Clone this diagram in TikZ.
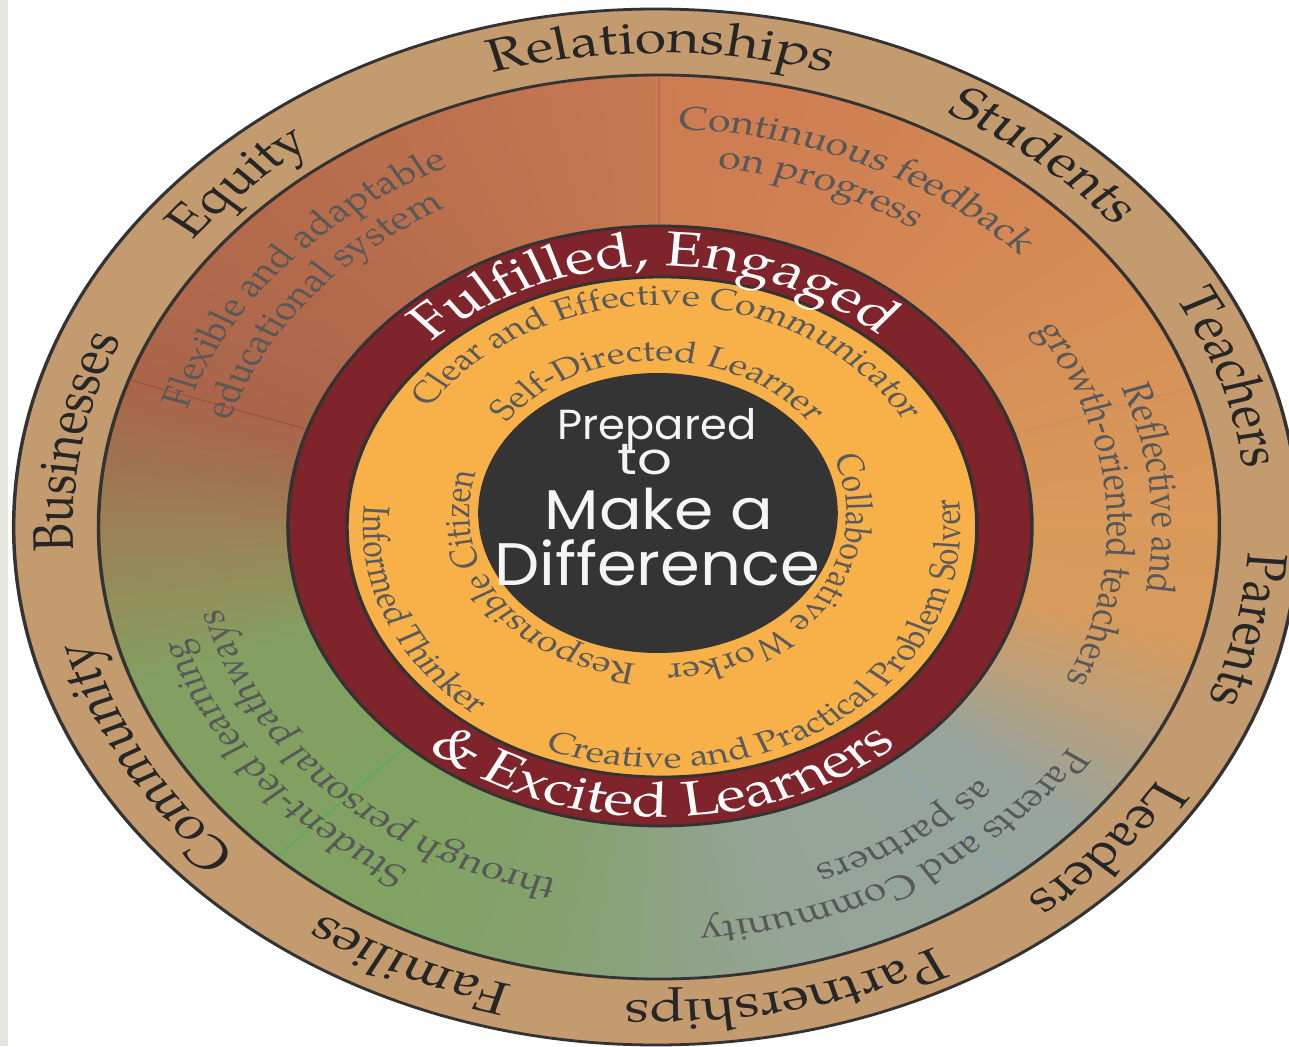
\documentclass[tikz,border=0pt]{standalone}
\usepackage{graphicx}
\usepackage{fontspec}
\setmainfont{texgyrepagella-regular.otf}
\newfontfamily\chalkfont{Poppins}
\usetikzlibrary{decorations.text}
\definecolor{stripcol}{RGB}{229,231,222}
\definecolor{tanband}{RGB}{196,155,110}
\definecolor{edgecol}{RGB}{51,51,51}
\definecolor{redring}{RGB}{126,36,42}
\definecolor{orangering}{RGB}{248,176,73}
\definecolor{darkcore}{RGB}{52,52,52}
\definecolor{labcol}{RGB}{38,38,38}
\definecolor{bandtxt}{RGB}{88,88,88}
\definecolor{oringtxt}{RGB}{90,90,90}
\definecolor{chalkcol}{RGB}{245,245,245}
\definecolor{sA}{RGB}{198,120,81}
\definecolor{sB}{RGB}{186,111,77}
\definecolor{sC}{RGB}{170,101,74}
\definecolor{sD}{RGB}{160,115,80}
\definecolor{sE}{RGB}{155,130,86}
\definecolor{sF}{RGB}{145,145,90}
\definecolor{sG}{RGB}{131,159,97}
\definecolor{sH}{RGB}{128,163,98}
\definecolor{sI}{RGB}{134,162,112}
\definecolor{sJ}{RGB}{150,164,152}
\definecolor{sK}{RGB}{152,164,157}
\definecolor{sL}{RGB}{186,160,124}
\definecolor{sM}{RGB}{214,155,93}
\definecolor{sN}{RGB}{217,154,90}
\definecolor{sO}{RGB}{216,148,88}
\definecolor{sP}{RGB}{213,137,84}
\definecolor{sQ}{RGB}{208,128,82}
\definecolor{sR}{RGB}{205,124,82}
\definecolor{divA}{RGB}{150,78,60}
\definecolor{divB}{RGB}{185,100,70}
\definecolor{divC}{RGB}{200,140,90}
\definecolor{divD}{RGB}{120,175,205}
\definecolor{divE}{RGB}{70,180,80}
\tikzset{
  ringedge/.style={draw=edgecol,line width=2.8pt},
  chalk/.style={text=chalkcol,font=\chalkfont,inner sep=0pt,anchor=base},
}
\newcommand\cwtxt[6]{%
  \pgfmathsetmacro\myS{#3+#4}\pgfmathsetmacro\myE{#3-#4}%
  \path[decorate,decoration={text along path,text align=center,text={|#5|#6}}]
    (#1) ++(\myS:#2) arc[start angle=\myS,end angle=\myE,radius=#2];}
\newcommand\ccwtxt[6]{%
  \pgfmathsetmacro\myS{#3-#4}\pgfmathsetmacro\myE{#3+#4}%
  \path[decorate,decoration={text along path,text align=center,text={|#5|#6}}]
    (#1) ++(\myS:#2) arc[start angle=\myS,end angle=\myE,radius=#2];}
\def\labfmt{\fontsize{46}{50}\selectfont\color{labcol}}
\def\bandfmt{\fontsize{33}{36}\selectfont\color{bandtxt}}
\def\redfmt{\fontsize{49}{52}\selectfont\color{white}}
\def\orfmt{\fontsize{30}{33}\selectfont\color{oringtxt}}
\begin{document}
\begin{tikzpicture}[x=1pt,y=1pt]
\useasboundingbox (-656,-519) rectangle (633,527);
\fill[white] (-656,-519) rectangle (633,527);
\fill[stripcol] (-656,-519) rectangle (-648,527);
\begin{scope}
\clip (-648,-519) rectangle (633,527);
\begin{scope}[transform canvas={xscale=1.24}]
% outer tan band
\fill[tanband] (0,0) circle[radius=518];
% middle band, angular colour blend
\foreach \a/\b/\ca/\cb in {90/120/sA/sB,120/161/sB/sC,161/171/sC/sD,171/180/sD/sE,
  180/190/sE/sF,190/200/sF/sG,200/240/sG/sH,240/258/sH/sI,258/285/sI/sJ,285/318/sJ/sK,
  318/332/sK/sL,332/345/sL/sM,345/360/sM/sN,360/378/sN/sO,378/405/sO/sP,405/430/sP/sQ,
  430/450/sQ/sR}{
  \pgfmathtruncatemacro\bm{\b-1}
  \foreach \t in {\a,...,\bm}{
    \pgfmathtruncatemacro\p{round(100*(\b-\t)/(\b-\a))}
    \fill[\ca!\p!\cb] (2.4,0) -- ++(\t:452) arc[start angle=\t,end angle=\t+1.4,radius=452] -- cycle;
  }
}
\draw[ringedge] (0,0) circle[radius=518];
\draw[ringedge] (2.4,0) circle[radius=452];
% faint sector dividers
\foreach \ang/\col in {161/divA,90/divB,18/divC,309/divD,227/divE}
  \draw[\col,line width=1.4pt,opacity=.65,shift={(2.4,0)}] (\ang:300) -- (\ang:450);
% red ring, orange ring, dark core
\filldraw[fill=redring,ringedge] (3.2,1) circle[radius=300];
\filldraw[fill=orangering,ringedge] (4.8,0) ellipse[x radius=254,y radius=250];
\fill[darkcore] (1.6,14) ellipse[x radius=145,y radius=140];
% outer labels
\cwtxt{4,0}{474}{90}{40}{\labfmt}{Relationships}
\cwtxt{4,0}{474}{50.2}{25}{\labfmt}{Students}
\cwtxt{4,0}{474}{18}{25}{\labfmt}{Teachers}
\cwtxt{4,0}{474}{-12.3}{25}{\labfmt}{Parents}
\cwtxt{4,0}{474}{-41.9}{25}{\labfmt}{Leaders}
\cwtxt{4,0}{474}{-77.9}{40}{\labfmt}{Partnerships}
\cwtxt{4,0}{474}{245.1}{25}{\labfmt}{Families}
\cwtxt{4,0}{474}{208.9}{30}{\labfmt}{Community}
\cwtxt{4,0}{474}{169.8}{30}{\labfmt}{Businesses}
\cwtxt{4,0}{474}{134.6}{20}{\labfmt}{Equity}
% middle band texts
\cwtxt{2.4,0}{398}{139}{40}{\bandfmt}{Flexible and adaptable}
\cwtxt{2.4,0}{362}{140.6}{40}{\bandfmt}{educational system}
\cwtxt{2.4,0}{398}{65.4}{40}{\bandfmt}{Continuous feedback}
\cwtxt{2.4,0}{362}{69}{30}{\bandfmt}{on progress}
\cwtxt{2.4,0}{398}{5.5}{35}{\bandfmt}{Reflective and}
\cwtxt{2.4,0}{362}{4}{45}{\bandfmt}{growth-oriented teachers}
\cwtxt{2.4,0}{398}{-59.5}{45}{\bandfmt}{Parents and Community}
\cwtxt{2.4,0}{362}{-57}{30}{\bandfmt}{as partners}
\cwtxt{2.4,0}{398}{218}{45}{\bandfmt}{Student-led learning}
\cwtxt{2.4,0}{362}{225}{50}{\bandfmt}{through personal pathways}
% red ring texts
\cwtxt{3.2,1}{260}{91}{60}{\redfmt}{Fulfilled, Engaged}
\ccwtxt{3.2,1}{291}{270.5}{60}{\redfmt}{{\&} Excited Learners}
% orange ring texts
\cwtxt{4.8,0}{222}{88}{70}{\orfmt}{Clear and Effective Communicator}
\ccwtxt{4.8,0}{241}{307}{75}{\orfmt}{Creative and Practical Problem Solver}
\ccwtxt{4.8,0}{241}{203}{40}{\orfmt}{Informed Thinker}
\cwtxt{1.6,14}{152}{90}{65}{\orfmt}{Self-Directed Learner}
\cwtxt{1.6,14}{152}{-33}{65}{\orfmt}{Collaborative Worker}
\cwtxt{1.6,14}{152}{214}{65}{\orfmt}{Responsible Citizen}
% chalk text
\node[chalk] (prep) at (0.8,87) {\fontsize{42}{44}\selectfont\scalebox{.83}[1]{Prepared}};
\node[chalk] (to) at (-9,52) {\fontsize{44}{46}\selectfont to};
\node[chalk] (make) at (2.4,-3) {\fontsize{56}{58}\selectfont\scalebox{.91}[1]{Make a}};
\node[chalk] (diff) at (0.8,-58) {\fontsize{60}{62}\selectfont\scalebox{.86}[1]{Difference}};
\end{scope}
\end{scope}
\end{tikzpicture}
\end{document}
